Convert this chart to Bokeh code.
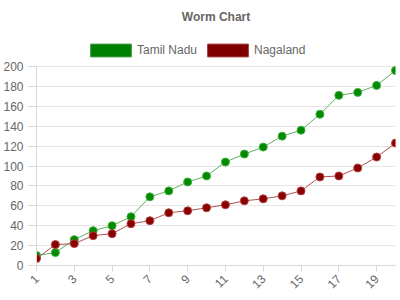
from bokeh.plotting import figure
from bokeh.models import Range1d, FixedTicker, Legend, LegendItem, ColumnDataSource
from bokeh.embed import file_html
from bokeh.resources import INLINE
import math

x_vals = list(range(1, 21))
tamil_nadu = [10, 13, 26, 35, 40, 49, 69, 75, 84, 90, 104, 112, 119, 130, 136, 152, 171, 174, 181, 196]
nagaland = [7, 21, 22, 30, 32, 42, 45, 53, 55, 58, 61, 65, 67, 70, 75, 89, 90, 98, 109, 123]
x_ticks = [1, 3, 5, 7, 9, 11, 13, 15, 17, 19]
y_ticks = [0, 20, 40, 60, 80, 100, 120, 140, 160, 180, 200]

FONT = "Liberation Sans"
GREY = "#666666"

# frame spans 30..265 px; value 200 sits at 66 px
p = figure(width=400, height=300, output_backend="svg", toolbar_location=None,
           x_range=Range1d(1, 20), y_range=Range1d(0, 236.2),
           min_border_left=36, min_border_right=5, min_border_bottom=35, min_border_top=30)
p.outline_line_color = None
p.background_fill_color = "white"

p.title.text = "Worm Chart"
p.title.align = "center"
p.title.text_font = FONT
p.title.text_font_size = "12px"
p.title.text_font_style = "bold"
p.title.text_color = GREY
p.title.standoff = 14

p.xgrid.grid_line_color = None
p.ygrid.grid_line_color = "#e6e6e6"
p.ygrid.ticker = FixedTicker(ticks=y_ticks)

p.xaxis.ticker = FixedTicker(ticks=x_ticks)
p.yaxis.ticker = FixedTicker(ticks=y_ticks)
p.yaxis.bounds = (0, 200)
for ax in (p.xaxis[0], p.yaxis[0]):
    ax.axis_line_color = "#d9d9d9"
    ax.major_tick_line_color = "#d9d9d9"
    ax.minor_tick_line_color = None
    ax.major_tick_in = 0
    ax.major_label_text_font = FONT
    ax.major_label_text_font_size = "12px"
    ax.major_label_text_color = GREY
p.xaxis.major_tick_out = 6
p.yaxis.major_tick_out = 9
p.yaxis.major_label_standoff = 4
p.xaxis.major_label_orientation = math.pi / 4

src = ColumnDataSource(dict(x=x_vals, tn=tamil_nadu, ng=nagaland))
p.line("x", "tn", source=src, line_color="#60b060", line_width=1)
p.line("x", "ng", source=src, line_color="#b05050", line_width=1)
p.scatter("x", "tn", source=src, size=8, fill_color="#008a00", line_color="#40b040", line_width=1)
p.scatter("x", "ng", source=src, size=8, fill_color="#880000", line_color="#b04040", line_width=1)

off = ColumnDataSource(dict(l=[-10], r=[-9], b=[-10], t=[-9]))
q1 = p.quad(left="l", right="r", bottom="b", top="t", source=off, fill_color="#008000", line_color="#40a040")
q2 = p.quad(left="l", right="r", bottom="b", top="t", source=off, fill_color="#800000", line_color="#a04040")
legend = Legend(items=[LegendItem(label="Tamil Nadu", renderers=[q1]),
                       LegendItem(label="Nagaland", renderers=[q2])],
                orientation="horizontal", location=(49, 207),
                glyph_width=51, glyph_height=16, label_text_font=FONT,
                label_text_font_size="12px", label_text_color=GREY,
                border_line_color=None, background_fill_alpha=0,
                spacing=5, label_standoff=1, padding=0, margin=0)
p.add_layout(legend, "center")

open("out.html", "w").write(file_html(p, INLINE))
